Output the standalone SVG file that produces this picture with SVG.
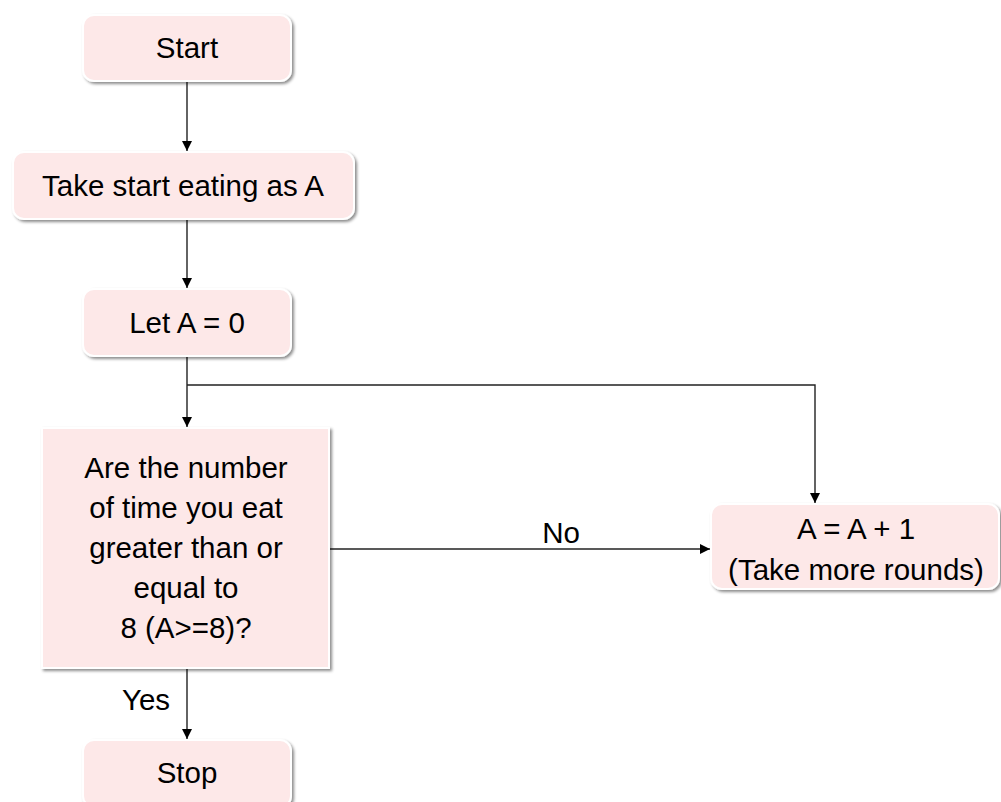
<svg xmlns="http://www.w3.org/2000/svg" width="1001" height="802" viewBox="0 0 1001 802">
<style>
.box{fill:#fde8e8;stroke:#ffffff;stroke-width:2;filter:url(#sh)}
.t{font-family:"Liberation Sans",Arial,sans-serif;font-size:29.5px;fill:#000;text-anchor:middle}
.c{fill:none;stroke:#222;stroke-width:1.4}
</style>
<defs>
<filter id="sh" x="-10%" y="-10%" width="130%" height="130%">
<feDropShadow dx="2" dy="2" stdDeviation="1.8" flood-color="#000" flood-opacity="0.45"/>
</filter>
<marker id="ah" viewBox="0 0 10 10" refX="10" refY="5" markerWidth="10" markerHeight="10" markerUnits="userSpaceOnUse" orient="auto">
<path d="M0,0 L10,5 L0,10 Z" fill="#000"/>
</marker>
</defs>
<rect width="1001" height="802" fill="#fff"/>
<g id="connectors">
<line class="c" x1="187" y1="81" x2="187" y2="151" marker-end="url(#ah)"/>
<line class="c" x1="187" y1="219" x2="187" y2="288" marker-end="url(#ah)"/>
<line class="c" x1="187" y1="356" x2="187" y2="427" marker-end="url(#ah)"/>
<polyline class="c" points="187,385 815,385 815,503" marker-end="url(#ah)"/>
<line class="c" x1="329" y1="549" x2="710" y2="549" marker-end="url(#ah)"/>
<line class="c" x1="187" y1="668" x2="187" y2="739" marker-end="url(#ah)"/>
<text class="t" x="561" y="543">No</text>
<text class="t" x="146" y="710">Yes</text>
</g>
<g id="start">
<rect class="box" x="83" y="15" width="208" height="66" rx="11"/>
<text class="t" x="187" y="58">Start</text>
</g>
<g id="take">
<rect class="box" x="13" y="152" width="341" height="67" rx="11"/>
<text class="t" x="183" y="196">Take start eating as A</text>
</g>
<g id="leta">
<rect class="box" x="83" y="289" width="208" height="67" rx="11"/>
<text class="t" x="187" y="333">Let A = 0</text>
</g>
<g id="decision">
<rect class="box" x="42" y="428" width="287" height="240"/>
<text class="t" x="186" y="478">Are the number</text>
<text class="t" x="186" y="518">of time you eat</text>
<text class="t" x="186" y="558">greater than or</text>
<text class="t" x="186" y="598">equal to</text>
<text class="t" x="186" y="638">8 (A&gt;=8)?</text>
</g>
<g id="inc">
<rect class="box" x="711" y="504" width="288" height="85" rx="11"/>
<text class="t" x="856" y="539">A = A + 1</text>
<text class="t" x="856" y="580">(Take more rounds)</text>
</g>
<g id="stop">
<rect class="box" x="83" y="740" width="208" height="67" rx="11"/>
<text class="t" x="187" y="783">Stop</text>
</g>
</svg>
